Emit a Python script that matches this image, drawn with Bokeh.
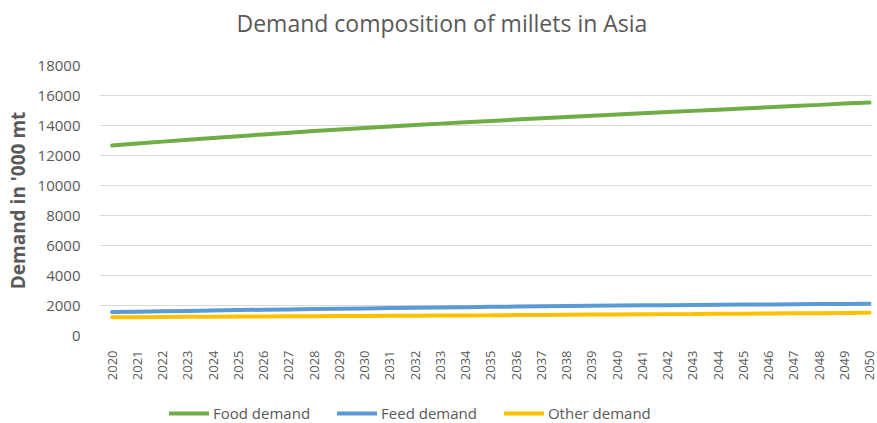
import math

from bokeh.plotting import figure
from bokeh.layouts import column
from bokeh.models import ColumnDataSource, FixedTicker, Label, Legend, LegendItem, Range1d
from bokeh.embed import file_html
from bokeh.resources import INLINE

# Projected millet demand in Asia ('000 metric tonnes)
years = list(range(2020, 2051))
food_demand = [12670, 12800, 12925, 13050, 13170, 13290, 13405, 13520, 13630, 13735,
               13840, 13935, 14030, 14125, 14215, 14305, 14395, 14480, 14565, 14650,
               14735, 14815, 14895, 14975, 15055, 15135, 15215, 15295, 15375, 15460,
               15540]
feed_demand = [1560, 1588, 1615, 1641, 1667, 1692, 1716, 1740, 1763, 1786,
               1808, 1829, 1850, 1870, 1890, 1910, 1928, 1946, 1963, 1980,
               1996, 2010, 2023, 2036, 2048, 2060, 2071, 2082, 2092, 2101,
               2110]
other_demand = [1215, 1224, 1233, 1242, 1251, 1260, 1269, 1278, 1287, 1296,
                1305, 1314, 1323, 1332, 1341, 1350, 1361, 1372, 1382, 1393,
                1403, 1414, 1425, 1435, 1446, 1456, 1467, 1478, 1488, 1499,
                1510]
y_ticks = list(range(0, 18001, 2000))

series_names = ["Food demand", "Feed demand", "Other demand"]
series_cols = ["food", "feed", "other"]
series_colors = ["#70ad47", "#5b9bd5", "#ffc000"]

GREY = "#595959"
FONT = "Open Sans"
W = 877

source = ColumnDataSource(dict(year=years, food=food_demand, feed=feed_demand, other=other_demand))


def bare_strip(height):
    """A figure with no axes or grid, used for the title and legend rows."""
    f = figure(width=W, height=height, output_backend="svg", toolbar_location=None,
               x_axis_type=None, y_axis_type=None,
               x_range=Range1d(0, 1), y_range=Range1d(0, 1),
               min_border=0, title=None)
    f.outline_line_color = None
    f.xgrid.grid_line_color = None
    f.ygrid.grid_line_color = None
    return f


# --- title row (frames in the column are aligned with the chart's frame) ---
title_fig = bare_strip(45)
title_fig.add_layout(Label(
    x=137, y=23, x_units="screen", y_units="screen",
    text="Demand composition of millets in Asia",
    text_font=FONT, text_font_size="23px", text_color=GREY,
    text_align="left", text_baseline="middle",
))

# --- main chart ---
p = figure(
    width=W, height=345, title=None,
    output_backend="svg", toolbar_location=None,
    x_range=Range1d(2019.5, 2050.07), y_range=Range1d(0, 18000),
    min_border_left=99, min_border_right=6, min_border_top=20, min_border_bottom=55,
)
p.outline_line_color = None
p.background_fill_color = "white"
p.border_fill_color = "white"

for col, color in zip(series_cols, series_colors):
    p.line("year", col, source=source, line_color=color, line_width=4, line_cap="round")

p.xaxis.ticker = FixedTicker(ticks=years)
p.xaxis.major_label_orientation = math.pi / 2
p.xaxis.major_label_text_font = FONT
p.xaxis.major_label_text_font_size = "13px"
p.xaxis.major_label_text_color = GREY
p.xaxis.major_label_standoff = 9
p.xaxis.axis_line_color = None
p.xaxis.major_tick_line_color = None
p.xaxis.minor_tick_line_color = None

p.yaxis.ticker = FixedTicker(ticks=y_ticks)
p.yaxis.major_label_text_font = FONT
p.yaxis.major_label_text_font_size = "15px"
p.yaxis.major_label_text_color = GREY
p.yaxis.major_label_standoff = 13
p.yaxis.axis_line_color = None
p.yaxis.major_tick_line_color = None
p.yaxis.minor_tick_line_color = None
p.yaxis.axis_label = "Demand in '000 mt"
p.yaxis.axis_label_text_font = FONT
p.yaxis.axis_label_text_font_size = "19px"
p.yaxis.axis_label_text_font_style = "bold"
p.yaxis.axis_label_text_color = GREY
p.yaxis.axis_label_standoff = 4

p.xgrid.grid_line_color = None
p.ygrid.grid_line_color = "#d9d9d9"
p.ygrid.grid_line_width = 1

# --- legend row: same series styles, drawn outside the strip's visible range ---
legend_fig = bare_strip(33)
legend_items = []
for name, col, color in zip(series_names, series_cols, series_colors):
    r = legend_fig.line("year", col, source=source, line_color=color, line_width=4, line_cap="round")
    legend_items.append(LegendItem(label=name, renderers=[r]))

legend = Legend(
    items=legend_items,
    orientation="horizontal",
    location=(70, 0),
    glyph_width=40, glyph_height=16,
    label_standoff=4, spacing=27,
    padding=0, margin=0,
    border_line_color=None, background_fill_alpha=0,
    label_text_font=FONT, label_text_font_size="15px", label_text_color=GREY,
)
legend_fig.add_layout(legend, "center")

layout = column(title_fig, p, legend_fig, spacing=0)

open("out.html", "w").write(file_html(layout, INLINE))
